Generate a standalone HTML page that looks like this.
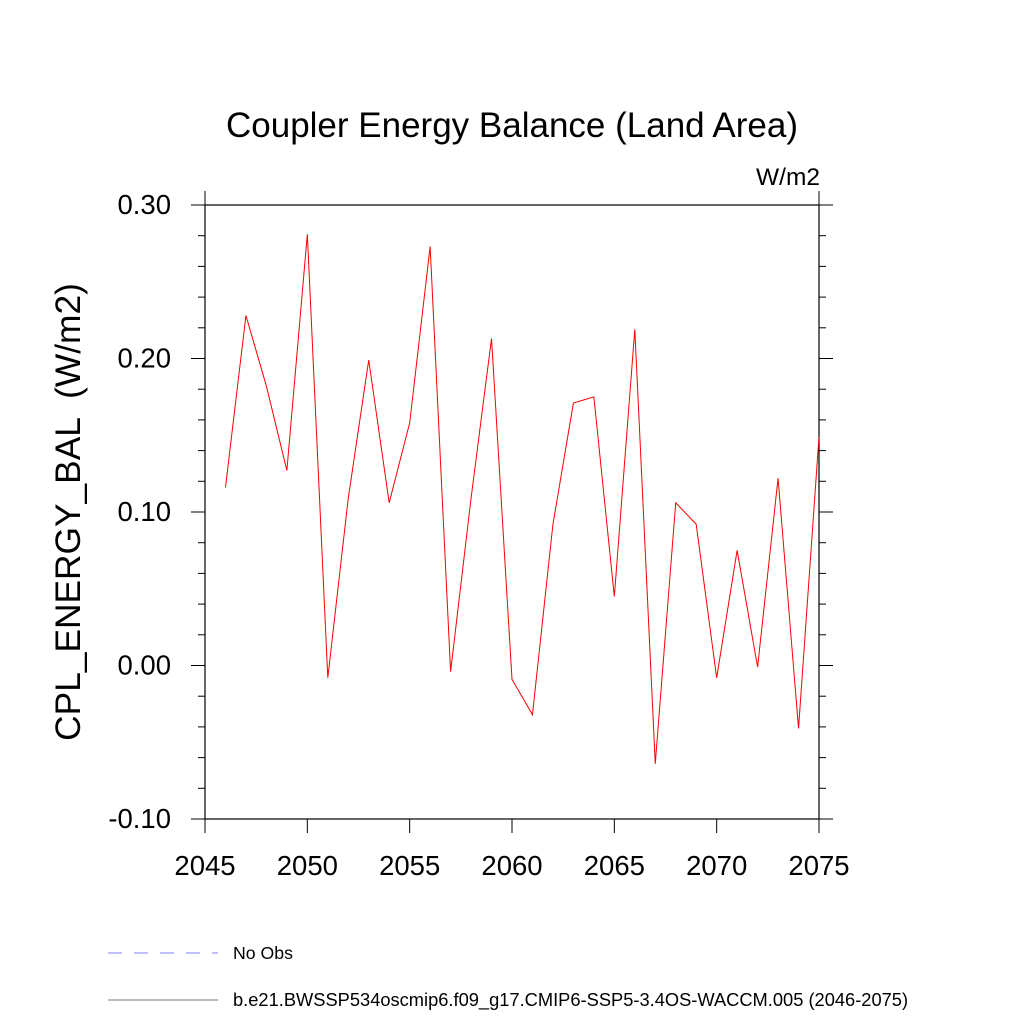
<!DOCTYPE html>
<html><head><meta charset="utf-8"><style>body{margin:0;background:#fff}svg{display:block}text{font-family:"Liberation Sans",sans-serif}</style></head>
<body>
<svg id="c" width="1024" height="1024" xmlns="http://www.w3.org/2000/svg">
<text x="512" y="137" font-size="35" text-anchor="middle">Coupler Energy Balance (Land Area)</text>
<text x="820" y="185" font-size="24.5" text-anchor="end">W/m2</text>
<text transform="translate(80,512) rotate(-90)" font-size="35.3" text-anchor="middle" xml:space="preserve">CPL_ENERGY_BAL  (W/m2)</text>
<rect x="205" y="205" width="614" height="614" fill="none" stroke="#000" stroke-width="1.2"/>
<g id="ticks"></g>
<polyline id="line" fill="none" stroke="#ff0000" stroke-width="1"/>
<line x1="108" y1="953" x2="218" y2="953" stroke="#8080ff" stroke-dasharray="14,12"/>
<text x="233" y="959" font-size="17.7">No Obs</text>
<line x1="108" y1="1000" x2="218" y2="1000" stroke="#777"/>
<text x="233" y="1006" font-size="18.3">b.e21.BWSSP534oscmip6.f09_g17.CMIP6-SSP5-3.4OS-WACCM.005 (2046-2075)</text>
</svg>
<script>
const years=[2046,2047,2048,2049,2050,2051,2052,2053,2054,2055,2056,2057,2058,2059,2060,2061,2062,2063,2064,2065,2066,2067,2068,2069,2070,2071,2072,2073,2074,2075];
const values=[0.116,0.228,0.182,0.127,0.281,-0.008,0.109,0.199,0.106,0.158,0.273,-0.004,0.109,0.213,-0.009,-0.032,0.092,0.171,0.175,0.045,0.219,-0.064,0.106,0.092,-0.008,0.075,-0.001,0.122,-0.041,0.149];
const xTicks=[2045,2050,2055,2060,2065,2070,2075];
const yTicks=[-0.1,0,0.1,0.2,0.3];
const yTickLabels=["-0.10","0.00","0.10","0.20","0.30"];
const X=v=>205+(v-2045)/30*614;
const Y=v=>819-(v+0.1)/0.4*614;
const NS="http://www.w3.org/2000/svg";
const g=document.getElementById('ticks');
function ln(x1,y1,x2,y2,n){const l=document.createElementNS(NS,'line');l.setAttribute('x1',x1);l.setAttribute('y1',y1);l.setAttribute('x2',x2);l.setAttribute('y2',y2);l.setAttribute('stroke','#000');


g.appendChild(l);}
function tx(x,y,s,a,n){const t=document.createElementNS(NS,'text');t.setAttribute('x',x);t.setAttribute('y',y);t.setAttribute('font-size','27.5');t.setAttribute('text-anchor',a);t.textContent=s;


g.appendChild(t);}
xTicks.forEach((v,i)=>{const x=X(v);ln(x,819,x,833,'x-tick');if(i===0||i===xTicks.length-1)ln(x,205,x,191,'x-tick-top');tx(x,875,String(v),'middle','x-tick-label');});
yTicks.forEach((v,i)=>{const y=Y(v);ln(191,y,205,y,'y-tick');ln(819,y,833,y,'y-tick-right');tx(171,y+9,yTickLabels[i],'end','y-tick-label');});
for(let k=-10;k<=30;k+=2){if(k%10===0)continue;const y=Y(k/100);ln(198,y,205,y,'y-minor-tick');ln(819,y,826,y,'y-minor-tick-right');}
document.getElementById('line').setAttribute('points',years.map((yr,i)=>X(yr)+','+Y(values[i])).join(' '));
</script>
</body></html>
